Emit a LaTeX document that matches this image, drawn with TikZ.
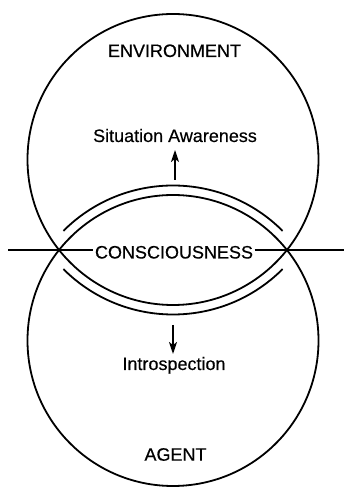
\documentclass[tikz,border=0pt]{standalone}
\usepackage{fontspec}
\setmainfont{Liberation Sans}
\usetikzlibrary{arrows.meta}
\begin{document}
\begin{tikzpicture}[x=1pt,y=1pt,
  ring/.style={line width=1.8pt},
  band/.style={line width=1.8pt},
  axis/.style={line width=1.6pt},
  lbl/.style={anchor=base,inner sep=0pt,font=\fontsize{18}{20}\selectfont\addfontfeature{FakeBold=0.4}},
  flow/.style={line width=1.6pt,-{Stealth[length=12pt,width=8pt,inset=3pt]}}]
\useasboundingbox (0,0) rectangle (344,487);
\coordinate (ct) at (173,327.5);
\coordinate (cb) at (173,146.5);
\draw[ring] (ct) circle[radius=145.5];
\draw[ring] (cb) circle[radius=145.5];
\draw[band] ([shift={(45:155)}]cb) arc[start angle=45,end angle=135,radius=155];
\draw[band] ([shift={(225:155)}]ct) arc[start angle=225,end angle=315,radius=155];
\node[lbl] (env) at (174.5,430) {ENVIRONMENT};
\node[lbl] (sa) at (175,345) {Situation Awareness};
\node[lbl,inner xsep=1.5pt] (cons) at (174,228.5) {CONSCIOUSNESS};
\node[lbl] (intro) at (174,117) {Introspection};
\node[lbl] (agent) at (175.5,26.3) {AGENT};
\coordinate (L) at (8,237);
\coordinate (R) at (344,237);
\draw[axis] (L) -- (L -| cons.west);
\draw[axis] (R -| cons.east) -- (R);
\coordinate (u0) at (175,307);
\coordinate (u1) at (175,337);
\coordinate (d0) at (173,162);
\coordinate (d1) at (173,133);
\draw[flow] (u0) -- (u1);
\draw[flow] (d0) -- (d1);
\end{tikzpicture}
\end{document}
